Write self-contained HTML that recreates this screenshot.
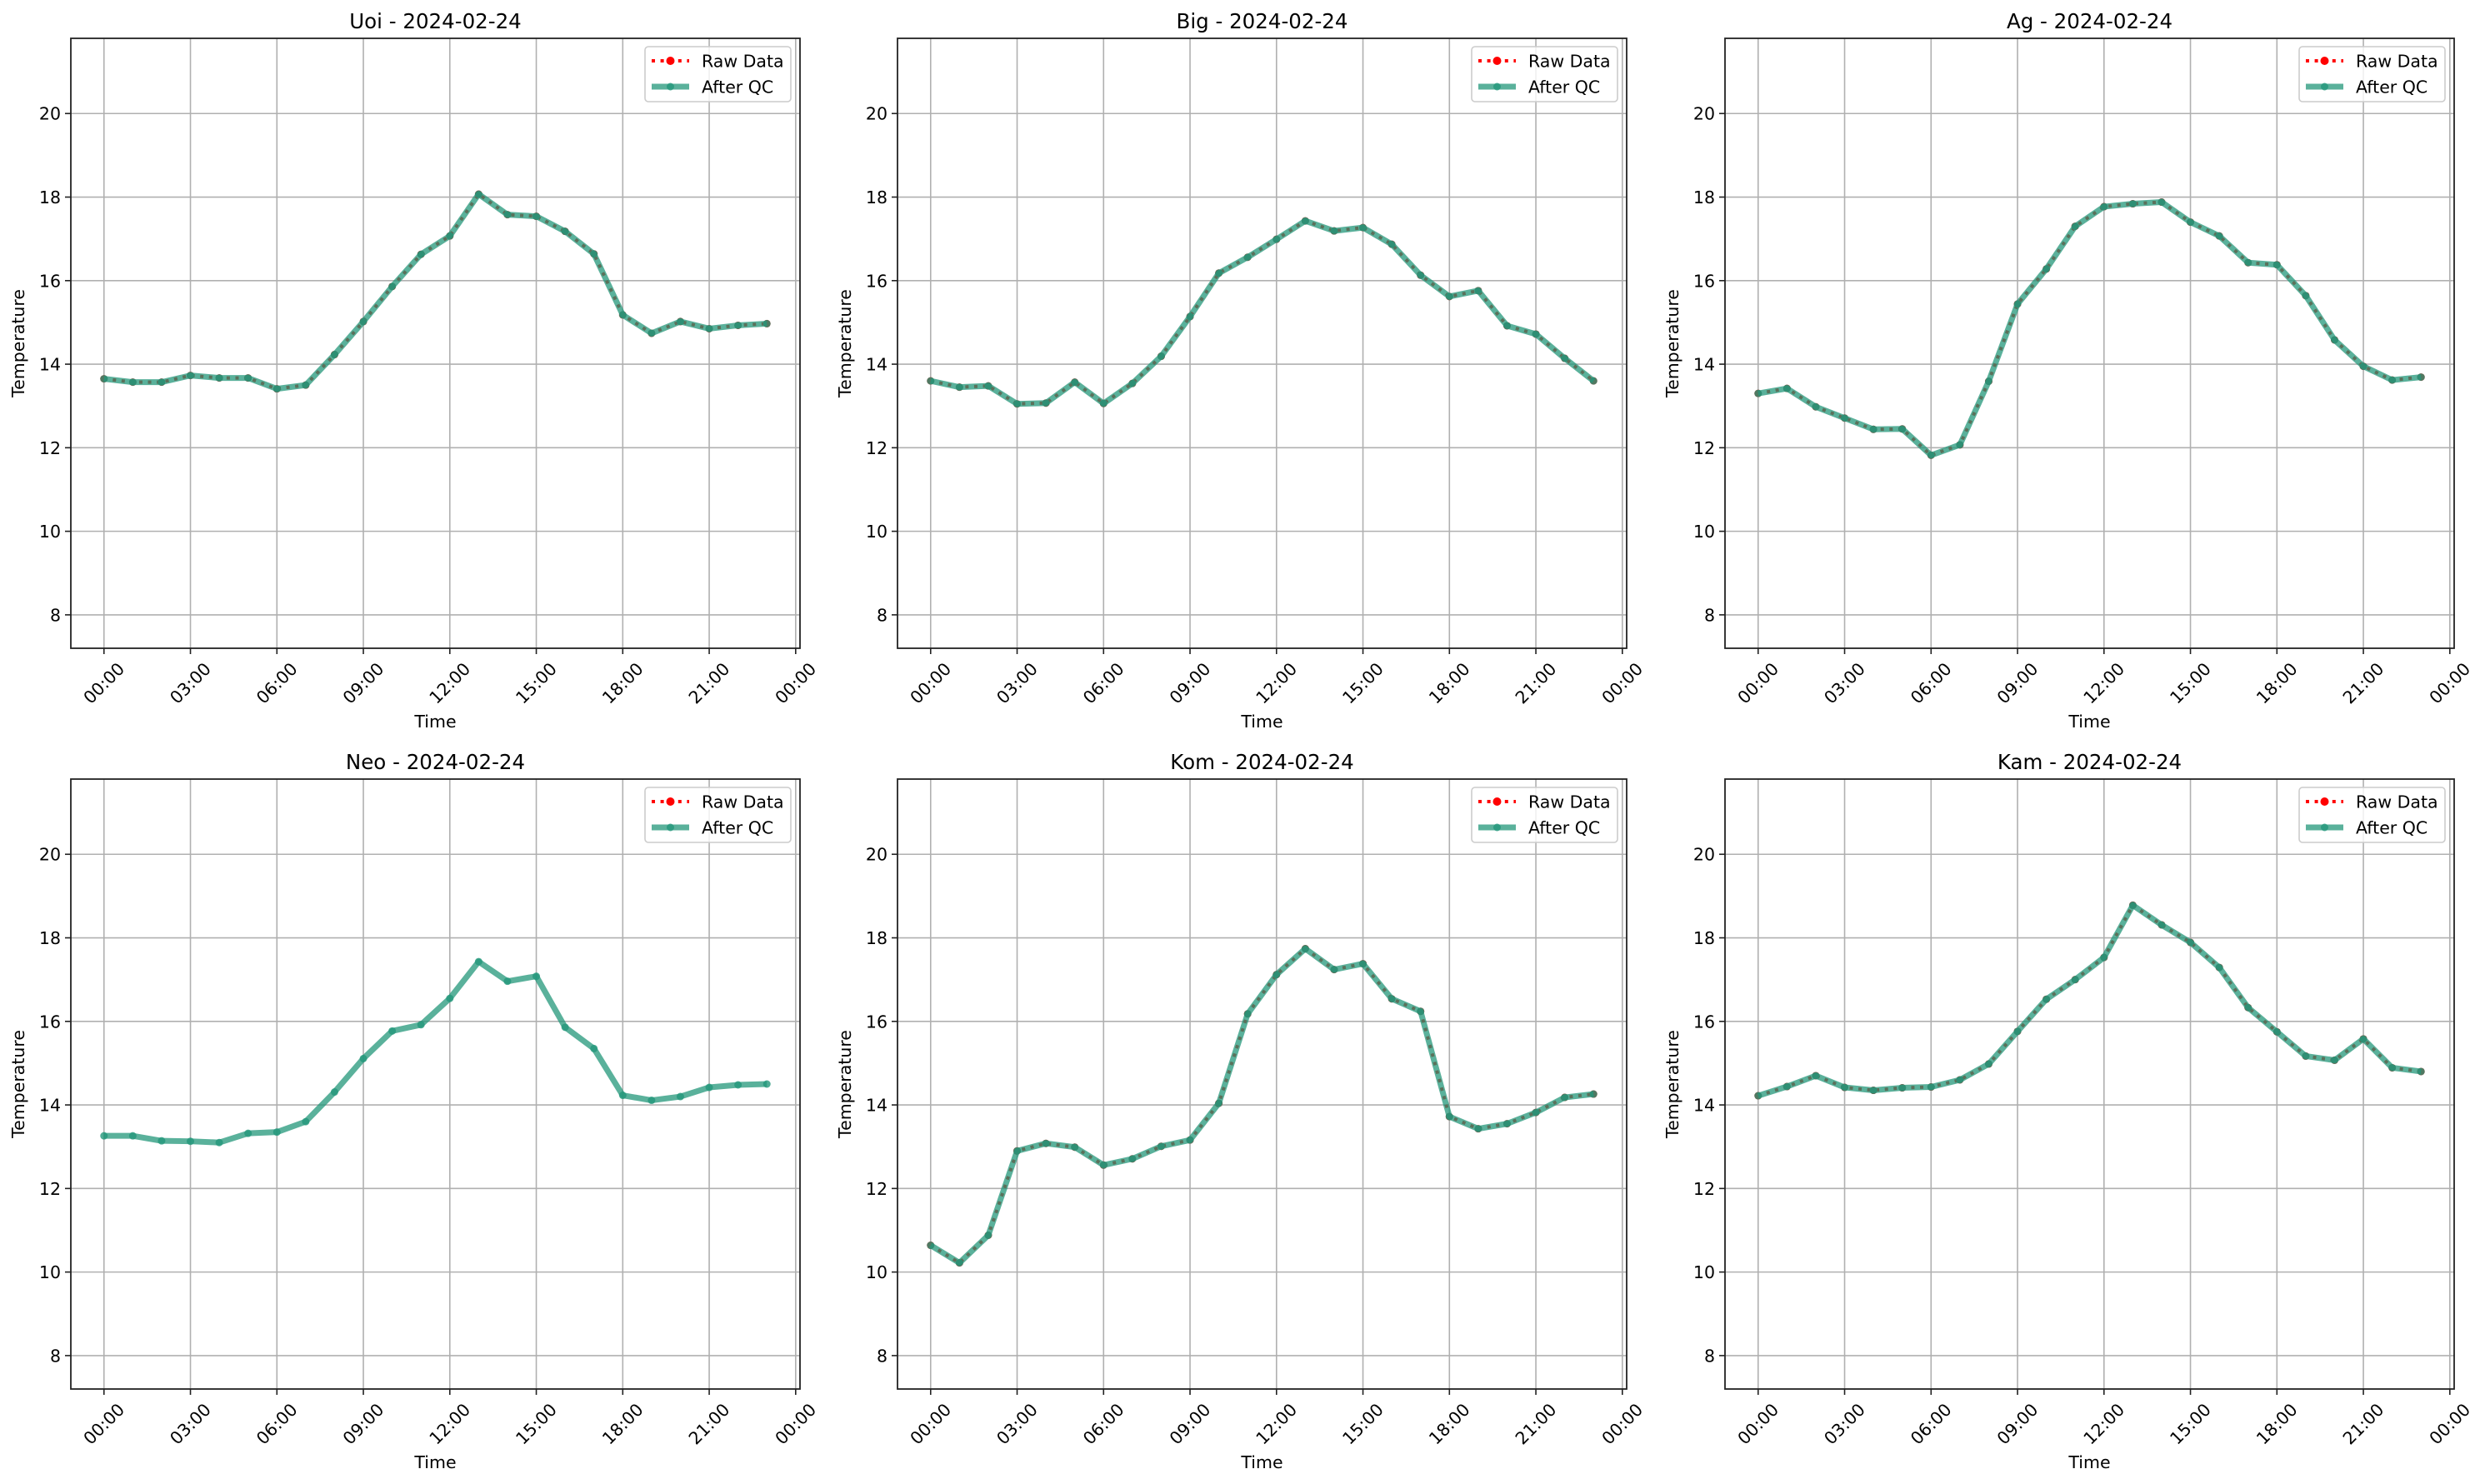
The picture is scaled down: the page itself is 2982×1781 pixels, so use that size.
<!DOCTYPE html>
<html><head><meta charset="utf-8"><style>
html,body{margin:0;padding:0;background:#fff;}
svg{display:block;font-family:"DejaVu Sans","Liberation Sans",sans-serif;}
</style></head><body>
<svg id="chart" width="2982" height="1781" viewBox="0 0 2982 1781" xmlns="http://www.w3.org/2000/svg"></svg>
<script>
const stations = ["Uoi","Big","Ag","Neo","Kom","Kam"];
const dateLabel = "2024-02-24";
const hours = [0,1,2,3,4,5,6,7,8,9,10,11,12,13,14,15,16,17,18,19,20,21,22,23];
const uoiValues = [13.65,13.57,13.57,13.73,13.67,13.67,13.41,13.5,14.23,15.02,15.86,16.63,17.07,18.07,17.58,17.54,17.18,16.64,15.18,14.74,15.02,14.85,14.93,14.97];
const bigValues = [13.60,13.45,13.48,13.05,13.07,13.57,13.06,13.54,14.19,15.14,16.18,16.56,16.99,17.43,17.19,17.27,16.87,16.13,15.62,15.76,14.92,14.72,14.14,13.60];
const agValues = [13.30,13.42,12.98,12.71,12.44,12.45,11.82,12.07,13.59,15.44,16.28,17.30,17.77,17.84,17.88,17.40,17.07,16.43,16.38,15.64,14.58,13.95,13.62,13.69];
const neoValues = [13.26,13.26,13.14,13.13,13.10,13.32,13.35,13.60,14.31,15.11,15.77,15.92,16.55,17.43,16.96,17.08,15.86,15.35,14.23,14.11,14.20,14.42,14.48,14.50];
const komValues = [10.64,10.22,10.88,12.90,13.08,12.99,12.56,12.71,13.01,13.16,14.04,16.18,17.12,17.74,17.24,17.38,16.54,16.24,13.72,13.43,13.55,13.82,14.18,14.26];
const kamValues = [14.22,14.44,14.70,14.42,14.35,14.41,14.43,14.60,14.98,15.76,16.53,17.0,17.53,18.78,18.31,17.89,17.29,16.33,15.75,15.17,15.07,15.58,14.89,14.80];
const qcSeries = [uoiValues,bigValues,agValues,neoValues,komValues,kamValues];
const rawSeries = [uoiValues,bigValues,agValues,null,komValues,kamValues];
const yTicks = [8,10,12,14,16,18,20];
const xTickHours = [0,3,6,9,12,15,18,21,24];
const xTickLabels = ["00:00","03:00","06:00","09:00","12:00","15:00","18:00","21:00","00:00"];

const NS = "http://www.w3.org/2000/svg";
const svg = document.getElementById("chart");
const lefts = [85,1077,2070], tops = [46,935], W = 875, H = 732;
const yMin = 7.2, yMax = 21.8, xMin = -1.15, xMax = 24.15;
const QC = "#23977a";

function mk(tag, attrs, parent){
  const e = document.createElementNS(NS, tag);
  for (const k in attrs) e.setAttribute(k, attrs[k]);
  (parent||svg).appendChild(e);
  return e;
}

stations.forEach((name, i) => {
  const L = lefts[i%3], T = tops[Math.floor(i/3)], R = L+W, B = T+H;
  const xs = h => L + (h - xMin)/(xMax - xMin)*W;
  const ys = v => T + (yMax - v)/(yMax - yMin)*H;
  const g = mk("g", {});
  
  

  yTicks.forEach(v => {
    const ln = mk("line", {x1:L, x2:R, y1:ys(v), y2:ys(v), stroke:"#b0b0b0", "stroke-width":1.6}, g);
    
    
    const tk = mk("line", {x1:L-7, x2:L, y1:ys(v), y2:ys(v), stroke:"#222", "stroke-width":1.6}, g);
    
    
    const t = mk("text", {x:L-12, y:ys(v)+7.5, "text-anchor":"end", "font-size":20.5, fill:"#000"}, g);
    t.textContent = v;
    
    
  });
  xTickHours.forEach((h, k) => {
    const x = xs(h);
    const ln = mk("line", {x1:x, x2:x, y1:T, y2:B, stroke:"#b0b0b0", "stroke-width":1.6}, g);
    
    
    const tk = mk("line", {x1:x, x2:x, y1:B, y2:B+7, stroke:"#222", "stroke-width":1.6}, g);
    
    
    const cy = B + 42;
    const t = mk("text", {x:x, y:cy+7, "text-anchor":"middle", "font-size":20.5, fill:"#000", transform:`rotate(-45 ${x} ${cy})`}, g);
    t.textContent = xTickLabels[k];
    
    
  });

  const raw = rawSeries[i];
  if (raw) {
    const pts = hours.map((h,j) => xs(h)+","+ys(raw[j])).join(" ");
    const pl = mk("polyline", {points:pts, fill:"none", stroke:"#ff0000", "stroke-width":4, "stroke-dasharray":"4,6.6"}, g);
    
    
    hours.forEach((h,j) => {
      const c = mk("circle", {cx:xs(h), cy:ys(raw[j]), r:4.5, fill:"#ff0000"}, g);
      
      
    });
  }
  const qc = qcSeries[i];
  const qg = mk("g", {opacity:0.75}, g);
  
  
  const pts2 = hours.map((h,j) => xs(h)+","+ys(qc[j])).join(" ");
  const pl2 = mk("polyline", {points:pts2, fill:"none", stroke:QC, "stroke-width":7, "stroke-linejoin":"round"}, qg);
  
  
  hours.forEach((h,j) => {
    const c = mk("circle", {cx:xs(h), cy:ys(qc[j]), r:4.5, fill:QC, opacity:0.8}, g);
    
    
  });

  const fr = mk("rect", {x:L, y:T, width:W, height:H, fill:"none", stroke:"#222", "stroke-width":1.8}, g);
  
  

  const ti = mk("text", {x:L+W/2, y:T-12, "text-anchor":"middle", "font-size":24.5, fill:"#000"}, g);
  ti.textContent = name + " - " + dateLabel;
  
  
  const xl = mk("text", {x:L+W/2, y:B+95, "text-anchor":"middle", "font-size":20.5, fill:"#000"}, g);
  xl.textContent = "Time";
  
  
  const yc = T + H/2, yx = L - 63;
  const yl = mk("text", {x:yx, y:yc+7, "text-anchor":"middle", "font-size":20.5, fill:"#000", transform:`rotate(-90 ${yx} ${yc})`}, g);
  yl.textContent = "Temperature";
  
  

  const lg = mk("g", {}, g);
  
  
  const lb = mk("rect", {x:R-186, y:T+10, width:175, height:66, rx:4, fill:"#fff", "fill-opacity":0.8, stroke:"#cccccc", "stroke-width":1.6}, lg);
  
  
  const r1 = mk("line", {x1:R-178, x2:R-133, y1:T+27, y2:T+27, stroke:"#ff0000", "stroke-width":4, "stroke-dasharray":"4,6.6"}, lg);
  
  
  mk("circle", {cx:R-155.5, cy:T+27, r:5, fill:"#ff0000"}, lg);
  const t1 = mk("text", {x:R-118, y:T+34.5, "font-size":20.5, fill:"#000"}, lg);
  t1.textContent = "Raw Data";
  
  
  const r2 = mk("line", {x1:R-178, x2:R-133, y1:T+58, y2:T+58, stroke:QC, "stroke-opacity":0.75, "stroke-width":7}, lg);
  
  
  mk("circle", {cx:R-155.5, cy:T+58, r:4.5, fill:QC, opacity:0.8}, lg);
  const t2 = mk("text", {x:R-118, y:T+65.5, "font-size":20.5, fill:"#000"}, lg);
  t2.textContent = "After QC";
  
  
});
</script>
</body></html>
